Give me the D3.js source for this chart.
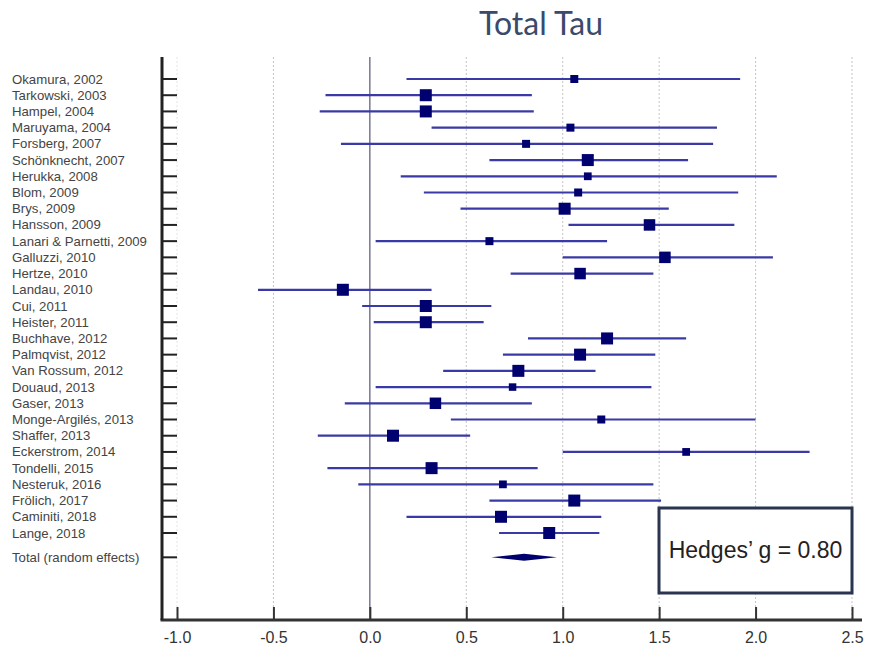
<!DOCTYPE html>
<html>
<head>
<meta charset="utf-8">
<script src="https://cdn.jsdelivr.net/npm/d3@7/dist/d3.min.js"></script>
<style>
  html, body { margin: 0; padding: 0; background: #fff; }
  svg { display: block; }
</style>
</head>
<body>
<svg id="chart" width="877" height="652"></svg>
<script>
// ---------------- data ----------------
const studies = [
  "Okamura, 2002", "Tarkowski, 2003", "Hampel, 2004", "Maruyama, 2004",
  "Forsberg, 2007", "Schönknecht, 2007", "Herukka, 2008", "Blom, 2009",
  "Brys, 2009", "Hansson, 2009", "Lanari & Parnetti, 2009", "Galluzzi, 2010",
  "Hertze, 2010", "Landau, 2010", "Cui, 2011", "Heister, 2011",
  "Buchhave, 2012", "Palmqvist, 2012", "Van Rossum, 2012", "Douaud, 2013",
  "Gaser, 2013", "Monge-Argilés, 2013", "Shaffer, 2013", "Eckerstrom, 2014",
  "Tondelli, 2015", "Nesteruk, 2016", "Frölich, 2017", "Caminiti, 2018",
  "Lange, 2018"
];
const estimates = [1.06, 0.29, 0.29, 1.04, 0.81, 1.13, 1.13, 1.08, 1.01, 1.45,
  0.62, 1.53, 1.09, -0.14, 0.29, 0.29, 1.23, 1.09, 0.77, 0.74,
  0.34, 1.20, 0.12, 1.64, 0.32, 0.69, 1.06, 0.68, 0.93];
const lower = [0.19, -0.23, -0.26, 0.32, -0.15, 0.62, 0.16, 0.28, 0.47, 1.03,
  0.03, 1.00, 0.73, -0.58, -0.04, 0.02, 0.82, 0.69, 0.38, 0.03,
  -0.13, 0.42, -0.27, 1.00, -0.22, -0.06, 0.62, 0.19, 0.67];
const upper = [1.92, 0.84, 0.85, 1.80, 1.78, 1.65, 2.11, 1.91, 1.55, 1.89,
  1.23, 2.09, 1.47, 0.32, 0.63, 0.59, 1.64, 1.48, 1.17, 1.46,
  0.84, 2.00, 0.52, 2.28, 0.87, 1.47, 1.51, 1.20, 1.19];
// relative study weights (%), drive marker size
const weights = [2.4, 4.0, 4.0, 2.4, 2.4, 4.0, 2.3, 2.4, 4.0, 3.8,
  2.4, 3.8, 3.8, 4.0, 4.0, 4.0, 4.0, 4.0, 4.0, 2.2,
  3.8, 2.4, 4.0, 2.3, 4.0, 2.3, 4.0, 4.0, 4.0];
const totalLabel = "Total (random effects)";
const totalEstimate = 0.80;
const totalLower = 0.63;
const totalUpper = 0.97;
const xTicks = [-1.0, -0.5, 0.0, 0.5, 1.0, 1.5, 2.0, 2.5];
const title = "Total Tau";
const summaryText = "Hedges\u2019 g = 0.80";

// ---------------- layout ----------------
const svg = d3.select("#chart");
const axisLeftX = 162, axisTop = 57, axisBottom = 620;

const x = d3.scaleLinear().domain([-1, 2.5]).range([177, 852]);
const y = d3.scaleLinear().domain([0, studies.length - 1]).range([79, 533]);
const totalIndex = studies.length + 0.5;
const size = d3.scaleLinear().domain([2, 4]).range([7, 12]);

// title
svg.append("text")
  .attr("x", 541).attr("y", 35)
  .attr("text-anchor", "middle")
  .attr("font-family", "Lato, 'Open Sans', sans-serif")
  .attr("font-size", 32)
  .attr("fill", "#3b4a6b")
  .text(title);

// gridlines
const grid = svg.append("g");
xTicks.forEach(t => {
  if (t === 0) return;
  grid.append("line")
    .attr("x1", x(t)).attr("x2", x(t))
    .attr("y1", axisTop).attr("y2", axisBottom)
    .attr("stroke", t === -1 ? "#e4e4e4" : "#c4c4c4")
    .attr("stroke-width", 1)
    .attr("stroke-dasharray", "2,2");
});
// zero line
svg.append("line")
  .attr("x1", x(0)).attr("x2", x(0))
  .attr("y1", axisTop).attr("y2", axisBottom)
  .attr("stroke", "#55557a").attr("stroke-width", 1.2);

// bottom axis
const xAxis = d3.axisBottom(x).tickValues(xTicks).tickFormat(d => d.toFixed(1)).tickSize(0).tickPadding(12);
const gx = svg.append("g").attr("transform", `translate(0,${axisBottom})`).call(xAxis);
gx.select(".domain").remove();
gx.selectAll("text")
  .attr("font-family", "Liberation Sans, Arial, sans-serif")
  .attr("font-size", 16)
  .attr("fill", "#333");
gx.selectAll(".tick").append("line")
  .attr("y1", 0).attr("y2", -13)
  .attr("stroke", "#333").attr("stroke-width", 2);
svg.append("line")
  .attr("x1", axisLeftX - 1.5).attr("x2", 862)
  .attr("y1", axisBottom).attr("y2", axisBottom)
  .attr("stroke", "#333").attr("stroke-width", 3);

// left axis
svg.append("line")
  .attr("x1", axisLeftX).attr("x2", axisLeftX)
  .attr("y1", axisTop).attr("y2", axisBottom)
  .attr("stroke", "#222").attr("stroke-width", 3);

const rowIdx = studies.map((d, i) => i).concat([totalIndex]);
svg.append("g").selectAll("line").data(rowIdx).join("line")
  .attr("x1", axisLeftX).attr("x2", axisLeftX + 15)
  .attr("y1", d => y(d)).attr("y2", d => y(d))
  .attr("stroke", "#222").attr("stroke-width", 2);

// labels
const labels = studies.map((s, i) => ({ text: s, i })).concat([{ text: totalLabel, i: totalIndex }]);
svg.append("g").selectAll("text").data(labels).join("text")
  .attr("x", 12)
  .attr("y", d => y(d.i) + 4.5)
  .attr("font-family", "Liberation Sans, Arial, sans-serif")
  .attr("font-size", 13.2)
  .attr("fill", "#444")
  .text(d => d.text);

// CI lines
svg.append("g").selectAll("line").data(studies).join("line")
  .attr("x1", (d, i) => x(lower[i])).attr("x2", (d, i) => x(upper[i]))
  .attr("y1", (d, i) => y(i)).attr("y2", (d, i) => y(i))
  .attr("stroke", "#3a3aa6").attr("stroke-width", 2.2);

// markers
svg.append("g").selectAll("rect").data(studies).join("rect")
  .attr("x", (d, i) => x(estimates[i]) - size(weights[i]) / 2)
  .attr("y", (d, i) => y(i) - size(weights[i]) / 2)
  .attr("width", (d, i) => size(weights[i]))
  .attr("height", (d, i) => size(weights[i]))
  .attr("fill", "#00006e");

// total diamond
const ty = y(totalIndex);
svg.append("path")
  .attr("d", `M${x(totalLower)},${ty} L${x(totalEstimate)},${ty - 3.5} L${x(totalUpper)},${ty} L${x(totalEstimate)},${ty + 3.5} Z`)
  .attr("fill", "#00006e");

// summary box
svg.append("rect")
  .attr("x", 659).attr("y", 508)
  .attr("width", 193).attr("height", 85)
  .attr("fill", "#fff")
  .attr("stroke", "#2b3550").attr("stroke-width", 3);
svg.append("text")
  .attr("x", 755.5).attr("y", 558)
  .attr("text-anchor", "middle")
  .attr("font-family", "Liberation Sans, Arial, sans-serif")
  .attr("font-size", 23)
  .attr("fill", "#222")
  .text(summaryText);
</script>
</body>
</html>
